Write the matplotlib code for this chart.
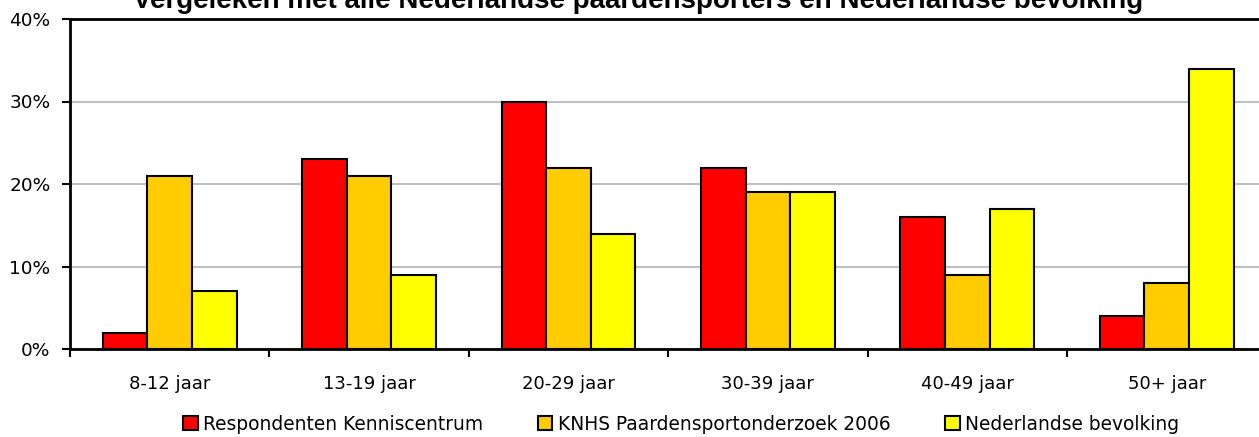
import numpy as np
import matplotlib
matplotlib.use("Agg")
import matplotlib.pyplot as plt
from matplotlib.ticker import PercentFormatter

# Data
categories = ["8-12 jaar", "13-19 jaar", "20-29 jaar", "30-39 jaar", "40-49 jaar", "50+ jaar"]
respondenten = [2, 23, 30, 22, 16, 4]
knhs = [21, 21, 22, 19, 9, 8]
bevolking = [7, 9, 14, 19, 17, 34]
series_names = ["Respondenten Kenniscentrum", "KNHS Paardensportonderzoek 2006", "Nederlandse bevolking"]
series_colors = ["#FF0000", "#FFCC00", "#FFFF00"]
title = "Vergeleken met alle Nederlandse paardensporters en Nederlandse bevolking"

fig = plt.figure(figsize=(12.59, 4.37), dpi=100)
ax = fig.add_axes([70 / 1259, 88 / 437, 1196.4 / 1259, 330 / 437])

x = np.arange(len(categories))
w = 0.224
for i, (vals, name, col) in enumerate(zip([respondenten, knhs, bevolking], series_names, series_colors)):
    ax.bar(x + (i - 1) * w, vals, width=w, color=col, edgecolor="black", linewidth=1.5,
           label=name, zorder=3)

ax.set_xlim(-0.5, len(categories) - 0.5)
ax.set_ylim(0, 40)
ax.set_yticks([0, 10, 20, 30, 40])
ax.yaxis.set_major_formatter(PercentFormatter(decimals=0))
ax.yaxis.grid(True, color="#C0C0C0", linewidth=1.5, zorder=0)

# category labels in the middle, ticks on the boundaries
ax.set_xticks(np.arange(len(categories) + 1) - 0.5)
ax.set_xticklabels([])
ax.set_xticks(x, minor=True)
ax.set_xticklabels(categories, minor=True)
ax.tick_params(axis="x", which="minor", length=0, pad=19, labelsize=13)
ax.tick_params(axis="x", which="major", length=6, width=1.5, direction="out")
ax.tick_params(axis="y", length=6, width=1.5, direction="out", labelsize=13.3, pad=8)

for s in ["left", "bottom", "top"]:
    ax.spines[s].set_linewidth(2)
    ax.spines[s].set_color("black")
ax.spines["right"].set_visible(False)

# title is partly cut off at the top of the picture, as in the original
fig.text(638 / 1259, 1 - 8 / 437, title, ha="center", va="baseline",
         fontsize=20, fontweight="bold", family="Liberation Sans")

fig.legend(loc="center left", bbox_to_anchor=(183 / 1259, 1 - 424 / 437),
           bbox_transform=fig.transFigure, ncol=3, frameon=False, fontsize=13.4,
           borderpad=0, borderaxespad=0, handlelength=0.8, handleheight=0.8,
           handletextpad=0.3, columnspacing=2.9)

fig.savefig("out.png", dpi=100)
